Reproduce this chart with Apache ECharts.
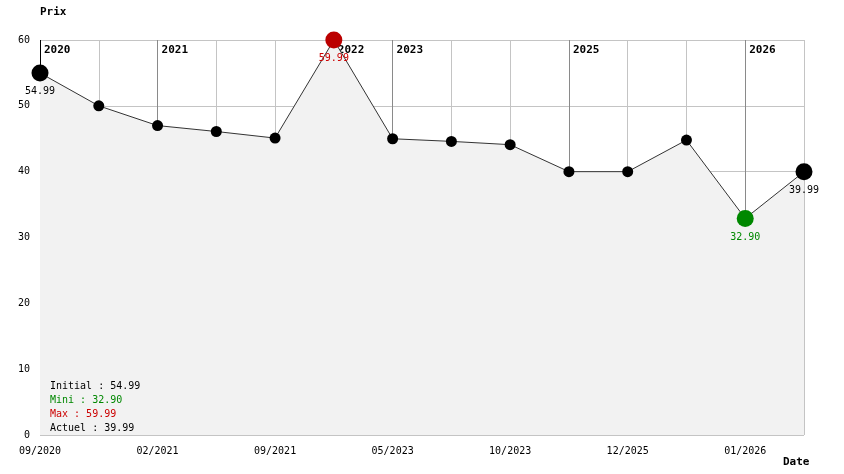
<!DOCTYPE html>
<html>
<head>
<meta charset="utf-8">
<script src="https://cdn.jsdelivr.net/npm/echarts@6/dist/echarts.min.js"></script>
<style>html,body{margin:0;padding:0;background:#fff}#c{width:844px;height:474px}</style>
</head>
<body>
<div id="c"></div>
<script>
// ---- data ----
const dateLabels = ['09/2020','','02/2021','','09/2021','','05/2023','','10/2023','','12/2025','','01/2026',''];
const prices = [54.99, 50.0, 47.0, 46.1, 45.1, 59.99, 45.0, 44.6, 44.1, 40.0, 40.0, 44.8, 32.90, 39.99];
const yearMarkIdx = [0, 2, 5, 6, 9, 12];
const yearMarkLabels = ['2020','2021','2022','2023','2025','2026'];
const yTicks = [0, 10, 20, 30, 40, 50, 60];

// ---- build ----
const FONT = '"DejaVu Sans Mono", "Liberation Mono", monospace';
const n = prices.length;
const maxV = Math.max(...prices), minV = Math.min(...prices);
const iMax = prices.indexOf(maxV), iMin = prices.indexOf(minV);
const cats = prices.map((_, i) => String(i));

const data = prices.map((v, i) => {
  let big = (i === 0 || i === n - 1 || i === iMax || i === iMin);
  let color = '#000';
  let lcolor = '#000';
  if (i === iMax) { color = '#bb0000'; lcolor = '#cc0000'; }
  if (i === iMin) { color = '#008800'; lcolor = '#008800'; }
  return {
    value: v,
    symbolSize: big ? 17 : 11,
    itemStyle: { color: color },
    label: {
      show: big,
      position: 'bottom',
      distance: 5,
      color: lcolor,
      fontFamily: FONT,
      fontSize: 10,
      formatter: () => v.toFixed(2)
    }
  };
});

const summary = '{a|Initial : ' + prices[0].toFixed(2) + '}\n' +
  '{g|Mini : ' + minV.toFixed(2) + '}\n' +
  '{r|Max : ' + maxV.toFixed(2) + '}\n' +
  '{a|Actuel : ' + prices[n - 1].toFixed(2) + '}';

const rs = c => ({ color: c, fontFamily: FONT, fontSize: 10, lineHeight: 14, fontWeight: 'normal' });

const chart = echarts.init(document.getElementById('c'), null, { renderer: 'canvas' });
chart.setOption({
  animation: false,
  backgroundColor: '#fff',
  title: [
    { text: 'Prix', left: 40, top: 6, padding: 0, textStyle: { fontFamily: FONT, fontSize: 11, fontWeight: 'bold', color: '#000', lineHeight: 12 } },
    { text: 'Date', left: 783, top: 456, padding: 0, textStyle: { fontFamily: FONT, fontSize: 11, fontWeight: 'bold', color: '#000', lineHeight: 12 } },
    { text: summary, left: 50, top: 379, padding: 0, z: 10,
      textStyle: { fontFamily: FONT, fontSize: 10, lineHeight: 14, fontWeight: 'normal',
        rich: { a: rs('#000'), g: rs('#008800'), r: rs('#cc0000') } } }
  ],
  grid: { left: 40, right: 40, top: 40, bottom: 39, containLabel: false },
  xAxis: {
    type: 'category',
    data: cats,
    boundaryGap: false,
    axisLine: { show: false },
    axisTick: { show: false },
    axisLabel: { interval: 0, margin: 11, color: '#000', fontFamily: FONT, fontSize: 10,
      formatter: v => dateLabels[+v] },
    splitLine: { show: true, interval: 0, lineStyle: { color: '#c4c4c4', width: 1 } }
  },
  yAxis: {
    type: 'value',
    min: yTicks[0], max: yTicks[yTicks.length - 1], interval: 10,
    axisLine: { show: false },
    axisTick: { show: false },
    axisLabel: { margin: 10, color: '#000', fontFamily: FONT, fontSize: 10 },
    splitLine: { show: true, lineStyle: { color: '#c4c4c4', width: 1 } }
  },
  series: [
    {
      type: 'line',
      z: 1,
      data: prices.map(() => null),
      symbol: 'none',
      silent: true,
      markLine: {
        z: 1,
        silent: true,
        symbol: ['none', 'none'],
        label: { show: false },
        lineStyle: { color: '#8a8a8a', type: 'solid', width: 1 },
        data: yearMarkIdx.map((idx, k) => ({
          xAxis: cats[idx],
          lineStyle: { color: k === 0 ? '#000' : '#8a8a8a', type: 'solid', width: 1 }
        }))
      }
    },
    {
      type: 'scatter',
      z: 1,
      silent: true,
      symbolSize: 0,
      itemStyle: { opacity: 1, color: '#000' },
      data: yearMarkIdx.map(idx => [cats[idx], yTicks[yTicks.length - 1]]),
      label: {
        show: true,
        position: [4, 5],
        color: '#000',
        opacity: 1,
        fontFamily: FONT,
        fontSize: 11,
        fontWeight: 'bold',
        formatter: p => yearMarkLabels[p.dataIndex]
      }
    },
    {
      type: 'line',
      z: 3,
      data: data,
      symbol: 'circle',
      showAllSymbol: true,
      lineStyle: { color: '#333', width: 1 },
      areaStyle: { color: '#f2f2f2', opacity: 1, origin: 'start' },
      itemStyle: { color: '#000' }
    }
  ]
});
</script>
</body>
</html>
